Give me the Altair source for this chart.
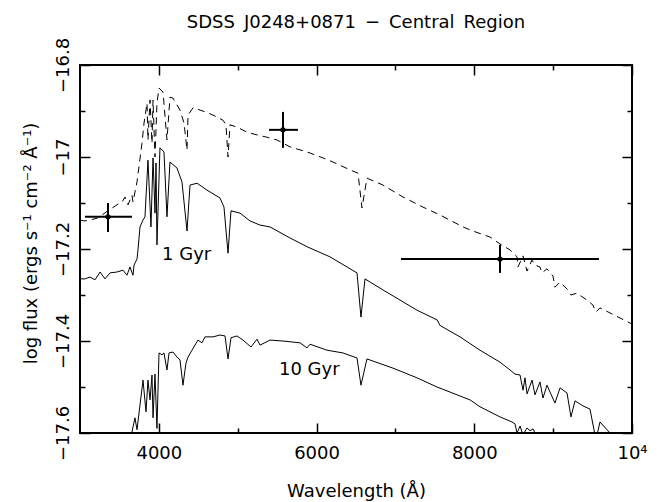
import altair as alt
import pandas as pd

# ---------------- data ----------------
# dashed spectrum (upper model)
dash_wl = [3000, 3063, 3127, 3216, 3279, 3406, 3469, 3533, 3571, 3609, 3659, 3672, 3723,
           3786, 3812, 3850, 3862, 3888, 3913, 3926, 3951, 3976, 4002, 4053, 4103, 4141,
           4179, 4268, 4319, 4357, 4370, 4433, 4522, 4623, 4737, 4813, 4851, 4877, 4902,
           4991, 5118, 5245, 5371, 5498, 5663, 5879, 6081, 6208, 6424, 6525, 6576, 6639,
           6842, 7096, 7350, 7565, 7857, 7984, 8199, 8326, 8453, 8542, 8554, 8618, 8669,
           8732, 8770, 8833, 8859, 8922, 8998, 9023, 9087, 9188, 9226, 9302, 9429, 9505,
           9543, 9594, 9721, 9848, 9975, 10000]
dash_flux = [-17.137, -17.139, -17.137, -17.133, -17.126, -17.111, -17.104, -17.098, -17.087,
             -17.104, -17.083, -17.098, -17.054, -16.970, -16.926, -16.883, -16.963, -16.876,
             -16.970, -16.876, -17.000, -16.883, -16.850, -16.859, -16.963, -16.870, -16.872,
             -16.898, -16.926, -16.985, -16.909, -16.893, -16.898, -16.904, -16.913, -16.920,
             -16.930, -17.000, -16.930, -16.935, -16.946, -16.952, -16.957, -16.963, -16.978,
             -16.989, -17.002, -17.011, -17.028, -17.035, -17.111, -17.046, -17.061, -17.087,
             -17.109, -17.126, -17.152, -17.161, -17.174, -17.189, -17.202, -17.217, -17.239,
             -17.215, -17.248, -17.224, -17.235, -17.239, -17.252, -17.243, -17.259, -17.283,
             -17.272, -17.289, -17.300, -17.296, -17.311, -17.322, -17.337, -17.328, -17.339,
             -17.350, -17.361, -17.363]

# 1 Gyr model
gyr1_wl = [3000, 3063, 3127, 3190, 3254, 3317, 3380, 3469, 3545, 3596, 3634, 3672, 3685,
           3723, 3735, 3761, 3799, 3824, 3862, 3900, 3926, 3951, 3964, 3976, 4014, 4065,
           4103, 4141, 4230, 4293, 4357, 4395, 4484, 4610, 4775, 4826, 4877, 4915, 5029,
           5156, 5283, 5409, 5663, 5891, 6170, 6386, 6513, 6563, 6614, 6842, 7058, 7273,
           7527, 7565, 7654, 7819, 8072, 8326, 8453, 8516, 8580, 8618, 8643, 8669, 8732,
           8770, 8833, 8871, 8922, 9023, 9087, 9176, 9226, 9277, 9378, 9467, 9543, 9594,
           9683, 9746, 9850]
gyr1_flux = [-17.265, -17.265, -17.261, -17.267, -17.250, -17.265, -17.252, -17.250, -17.246,
             -17.257, -17.239, -17.257, -17.235, -17.222, -17.202, -17.152, -17.137, -17.130,
             -17.007, -17.152, -17.002, -17.122, -17.013, -17.191, -16.980, -16.989, -17.130,
             -17.011, -17.024, -17.054, -17.161, -17.061, -17.057, -17.072, -17.089, -17.109,
             -17.209, -17.117, -17.122, -17.139, -17.148, -17.152, -17.176, -17.196, -17.217,
             -17.239, -17.252, -17.348, -17.265, -17.289, -17.311, -17.333, -17.354, -17.366,
             -17.375, -17.391, -17.420, -17.446, -17.463, -17.472, -17.474, -17.507, -17.480,
             -17.515, -17.485, -17.517, -17.489, -17.524, -17.496, -17.535, -17.502, -17.513,
             -17.565, -17.530, -17.541, -17.548, -17.615, -17.576, -17.593, -17.604, -17.625]

# 10 Gyr model
gyr10_wl = [3533, 3659, 3697, 3723, 3799, 3837, 3862, 3888, 3913, 3926, 3951, 3976, 4002,
            4040, 4065, 4103, 4129, 4179, 4230, 4268, 4306, 4344, 4370, 4420, 4496, 4547,
            4585, 4687, 4775, 4839, 4877, 4915, 4991, 5067, 5168, 5245, 5283, 5409, 5574,
            5790, 5879, 5917, 6132, 6335, 6513, 6563, 6639, 6969, 7273, 7527, 7781, 7946,
            8072, 8326, 8478, 8516, 8542, 8580, 8618, 8669, 8707, 8745, 8795, 8900]
gyr10_flux = [-17.640, -17.598, -17.567, -17.593, -17.485, -17.554, -17.485, -17.528, -17.474,
              -17.567, -17.472, -17.590, -17.426, -17.430, -17.426, -17.463, -17.426, -17.424,
              -17.435, -17.441, -17.496, -17.448, -17.435, -17.420, -17.398, -17.404, -17.391,
              -17.391, -17.387, -17.389, -17.439, -17.393, -17.389, -17.398, -17.413, -17.396,
              -17.409, -17.398, -17.400, -17.404, -17.415, -17.407, -17.420, -17.426, -17.437,
              -17.496, -17.439, -17.459, -17.480, -17.500, -17.517, -17.528, -17.543, -17.565,
              -17.576, -17.580, -17.600, -17.585, -17.604, -17.589, -17.595, -17.591, -17.609,
              -17.630]

# photometric points with error bars
pt_wl = [3355, 5574, 8326]
pt_wl_lo = [3063, 5397, 7070]
pt_wl_hi = [3659, 5764, 9581]
pt_flux = [-17.130, -16.941, -17.222]
pt_flux_lo = [-17.163, -16.980, -17.252]
pt_flux_hi = [-17.100, -16.902, -17.191]

# model labels
lab_text = ["1 Gyr", "10 Gyr"]
lab_wl = [4040, 5523]
lab_flux = [-17.224, -17.474]

x_major = [4000, 6000, 8000, 10000]
x_minor = [5000, 7000, 9000]
y_major = [-17.6, -17.4, -17.2, -17.0, -16.8]
y_minor = [-17.5, -17.3, -17.1, -16.9]

title_text = "SDSS\u2002J0248+0871\u2002\u2212\u2002Central\u2002Region"
x_title = "Wavelength (Å)"
y_title = "log flux (ergs s\u207b\u00b9 cm\u207b\u00b2 Å\u207b\u00b9)"

# ---------------- chart ----------------
FONT = "DejaVu Sans"
FS = 18
xs = alt.Scale(domain=[3000, 10000], nice=False, zero=False)
ys = alt.Scale(domain=[-17.6, -16.8], nice=False, zero=False)

def tick_axis(orient, values, size, labels=False, **kw):
    base = dict(orient=orient, values=values, tickSize=size, offset=-size, domain=False,
                grid=False, labels=labels, tickColor="black", tickWidth=1.5,
                title=None)
    base.update(kw)
    return alt.Axis(**base)

ax_bottom = tick_axis("bottom", x_major, 10, labels=True, format="d",
                      labelExpr="datum.value == 10000 ? '10\u2074' : datum.label",
                      labelFont=FONT, labelFontSize=FS, labelColor="black",
                      labelPadding=11, labelFlush=False, labelOverlap=False,
                      title=x_title, titleFont=FONT, titleFontSize=FS,
                      titleFontWeight="normal", titleColor="black", titlePadding=20)
ax_left = tick_axis("left", y_major, 10, labels=True, format="~g",
                    labelAngle=270, labelAlign="center", labelBaseline="bottom",
                    labelFont=FONT, labelFontSize=FS, labelColor="black",
                    labelPadding=8, labelFlush=False, labelOverlap=False,
                    title=y_title, titleFont=FONT, titleFontSize=FS,
                    titleFontWeight="normal", titleColor="black",
                    titleAngle=270, titleAlign="center", titleBaseline="middle",
                    titleX=-59, titleY=178)

df_dash = pd.DataFrame({"wl": dash_wl, "flux": dash_flux})
df_1 = pd.DataFrame({"wl": gyr1_wl, "flux": gyr1_flux})
df_10 = pd.DataFrame({"wl": gyr10_wl, "flux": gyr10_flux})
df_pt = pd.DataFrame({"wl": pt_wl, "lo": pt_wl_lo, "hi": pt_wl_hi,
                      "flux": pt_flux, "flo": pt_flux_lo, "fhi": pt_flux_hi})
df_lab = pd.DataFrame({"wl": lab_wl, "flux": lab_flux, "t": lab_text})

dashed = alt.Chart(df_dash).mark_line(color="black", strokeWidth=1, strokeDash=[7, 5],
                                      clip=True).encode(
    x=alt.X("wl:Q", scale=xs, axis=ax_bottom),
    y=alt.Y("flux:Q", scale=ys, axis=ax_left))

line1 = alt.Chart(df_1).mark_line(color="black", strokeWidth=1, clip=True).encode(
    x=alt.X("wl:Q", scale=xs, axis=tick_axis("bottom", x_minor, 5)),
    y=alt.Y("flux:Q", scale=ys, axis=tick_axis("left", y_minor, 5)))

line10 = alt.Chart(df_10).mark_line(color="black", strokeWidth=1, clip=True).encode(
    x=alt.X("wl:Q", scale=xs, axis=tick_axis("top", x_major, 10)),
    y=alt.Y("flux:Q", scale=ys, axis=tick_axis("right", y_major, 10)))

hbar = alt.Chart(df_pt).mark_rule(color="black", strokeWidth=2).encode(
    x=alt.X("lo:Q", scale=xs, axis=tick_axis("top", x_minor, 5)),
    x2="hi:Q",
    y=alt.Y("flux:Q", scale=ys, axis=tick_axis("right", y_minor, 5)))

vbar = alt.Chart(df_pt).mark_rule(color="black", strokeWidth=2).encode(
    x=alt.X("wl:Q", scale=xs, axis=None),
    y=alt.Y("flo:Q", scale=ys, axis=None),
    y2="fhi:Q")

dots = alt.Chart(df_pt).mark_circle(color="black", size=28, opacity=1).encode(
    x=alt.X("wl:Q", scale=xs, axis=None),
    y=alt.Y("flux:Q", scale=ys, axis=None))

labels = alt.Chart(df_lab).mark_text(align="left", baseline="alphabetic", font=FONT,
                                     fontSize=FS, color="black").encode(
    x=alt.X("wl:Q", scale=xs, axis=None),
    y=alt.Y("flux:Q", scale=ys, axis=None),
    text="t:N")

chart = alt.layer(dashed, line1, line10, hbar, vbar, dots, labels).resolve_axis(
    x="independent", y="independent"
).properties(
    width=552, height=368,
    title=alt.TitleParams(title_text, font=FONT, fontSize=FS, fontWeight="normal",
                          color="black", anchor="middle", baseline="alphabetic",
                          offset=10, dy=19),
    autosize=alt.AutoSizeParams(type="none"),
    padding={"left": 80, "top": 65, "right": 28, "bottom": 69},
    background="white",
).configure_view(stroke="black", strokeWidth=2)

chart.save("out.html", embed_options={"renderer": "svg", "actions": False})
